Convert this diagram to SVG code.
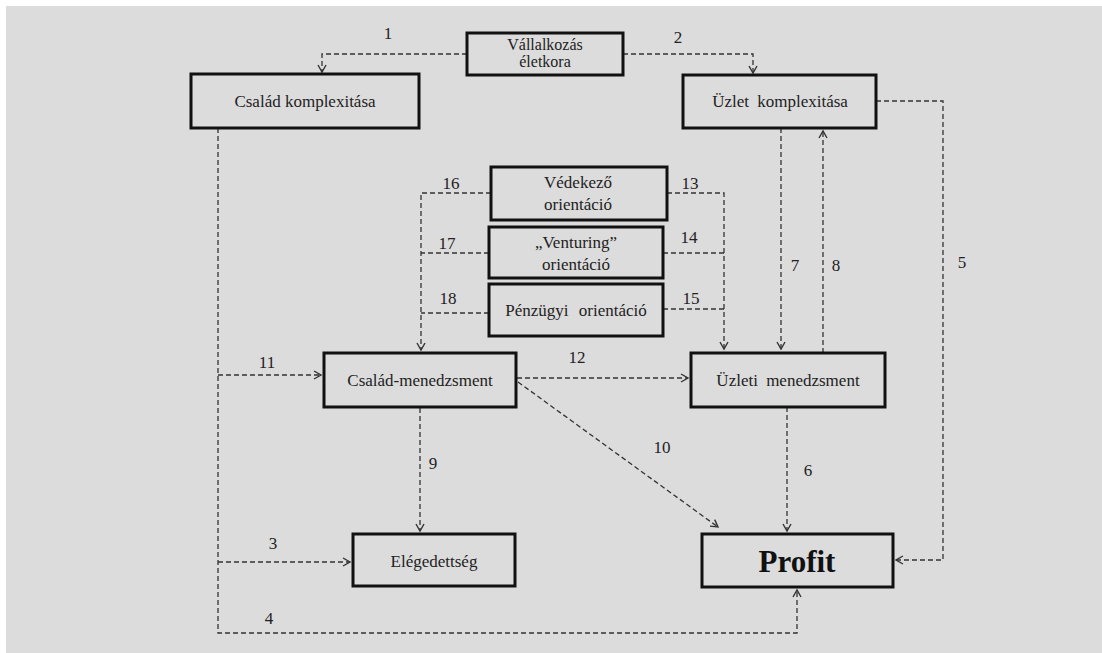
<svg xmlns="http://www.w3.org/2000/svg" width="1102" height="653" viewBox="0 0 1102 653">
<defs>
<marker id="ah" markerUnits="userSpaceOnUse" markerWidth="12" markerHeight="12" refX="8" refY="5" orient="auto">
<path d="M1,1 L8,5 L1,9" fill="none" stroke="#333" stroke-width="1.4"/>
</marker>
<style>
.box{fill:none;stroke:#111;stroke-width:3}
.t{font-family:"Liberation Serif","Times New Roman",serif;font-size:17px;fill:#222;text-anchor:middle}
.s{font-size:16px}
.p{font-family:"Liberation Serif","Times New Roman",serif;font-size:31px;font-weight:bold;fill:#111;text-anchor:middle}
.c{fill:none;stroke:#333;stroke-width:1.3;stroke-dasharray:5,3}
.a{marker-end:url(#ah)}
.n{font-family:"Liberation Serif","Times New Roman",serif;font-size:17px;fill:#222;text-anchor:middle}
</style>
</defs>
<rect x="0" y="0" width="1102" height="653" fill="#ffffff"/>
<rect x="6" y="6" width="1096" height="647" fill="#dcdcdc"/>

<g id="connectors">
<path class="c a" d="M467,54 H322 V72"/>
<path class="c a" d="M623,54 H753 V73"/>
<path class="c a" d="M876,101 H943 V560 H896"/>
<path class="c a" d="M218,128 V633 H797 V590"/>
<path class="c a" d="M218,375 H321"/>
<path class="c a" d="M218,562 H350"/>
<path class="c a" d="M420,408 V531"/>
<path class="c a" d="M517,378 H688"/>
<path class="c a" d="M518,382 L718,527"/>
<path class="c a" d="M787,407 V531"/>
<path class="c a" d="M781,128 V349"/>
<path class="c a" d="M823,353 V131"/>
<path class="c a" d="M491,193 H421 V350"/>
<path class="c" d="M489,253 H421"/>
<path class="c" d="M489,313 H421"/>
<path class="c a" d="M667,193 H724 V349"/>
<path class="c" d="M663,253 H724"/>
<path class="c" d="M663,309 H724"/>
</g>

<g id="labels">
<text class="n" x="388" y="39">1</text>
<text class="n" x="678" y="43">2</text>
<text class="n" x="273" y="549">3</text>
<text class="n" x="269" y="624">4</text>
<text class="n" x="962" y="268">5</text>
<text class="n" x="808" y="476">6</text>
<text class="n" x="795" y="271">7</text>
<text class="n" x="836" y="271">8</text>
<text class="n" x="433" y="469">9</text>
<text class="n" x="662" y="453">10</text>
<text class="n" x="267" y="368">11</text>
<text class="n" x="577" y="363">12</text>
<text class="n" x="690" y="189">13</text>
<text class="n" x="689" y="243">14</text>
<text class="n" x="691" y="304">15</text>
<text class="n" x="451" y="189">16</text>
<text class="n" x="447" y="249">17</text>
<text class="n" x="448" y="304">18</text>
</g>

<g id="n-eletkor">
<rect class="box" x="467" y="33" width="156" height="42"/>
<text class="t s" x="545" y="50">Vállalkozás</text>
<text class="t s" x="545" y="67">életkora</text>
</g>
<g id="n-csalad-komp">
<rect class="box" x="191" y="74" width="228" height="54"/>
<text class="t" x="305" y="107">Család komplexitása</text>
</g>
<g id="n-uzlet-komp">
<rect class="box" x="683" y="75" width="193" height="53"/>
<text class="t" x="780" y="107" word-spacing="4">Üzlet komplexitása</text>
</g>
<g id="n-vedekezo">
<rect class="box" x="491" y="167" width="176" height="53"/>
<text class="t" x="578" y="188">Védekező</text>
<text class="t" x="578" y="210">orientáció</text>
</g>
<g id="n-venturing">
<rect class="box" x="489" y="227" width="174" height="51"/>
<text class="t" x="576" y="248">„Venturing”</text>
<text class="t" x="576" y="270">orientáció</text>
</g>
<g id="n-penzugyi">
<rect class="box" x="489" y="284" width="174" height="52"/>
<text class="t" x="576" y="316" word-spacing="6">Pénzügyi orientáció</text>
</g>
<g id="n-csalad-men">
<rect class="box" x="324" y="353" width="192" height="54"/>
<text class="t" x="420" y="386">Család-menedzsment</text>
</g>
<g id="n-uzleti-men">
<rect class="box" x="691" y="353" width="194" height="54"/>
<text class="t" x="788" y="386" word-spacing="4">Üzleti menedzsment</text>
</g>
<g id="n-elegedettseg">
<rect class="box" x="353" y="534" width="162" height="52"/>
<text class="t" x="434" y="567">Elégedettség</text>
</g>
<g id="n-profit">
<rect class="box" x="702" y="534" width="191" height="53"/>
<text class="p" x="797" y="572">Profit</text>
</g>
</svg>
